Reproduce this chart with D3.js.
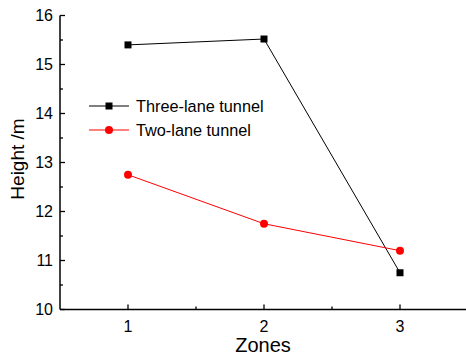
<!DOCTYPE html>
<html><head><meta charset="utf-8">
<script src="https://cdn.jsdelivr.net/npm/d3@7"></script>
<style>body{margin:0;background:#fff}svg{display:block}text{font-family:"Liberation Sans",Arial,sans-serif}</style>
</head><body>
<script>
const zones = [1, 2, 3];
const threeLane = [15.4, 15.52, 10.75];
const twoLane = [12.75, 11.75, 11.2];
const yTicks = [10, 11, 12, 13, 14, 15, 16];
const xTicks = [1, 2, 3];
const seriesNames = ["Three-lane tunnel", "Two-lane tunnel"];

const W = 466, H = 355;
const svg = d3.select("body").append("svg").attr("width", W).attr("height", H);
const x = d3.scaleLinear().domain([0.5, 3.5]).range([60, 468]);
const y = d3.scaleLinear().domain([10, 16]).range([309.5, 15.5]);

// axes
const gx = svg.append("g").attr("transform", "translate(0,309.5)");
gx.append("line").attr("x1", 60).attr("x2", 468).attr("stroke", "#000").attr("stroke-width", 1.5);
xTicks.forEach(t => gx.append("line").attr("x1", x(t)).attr("x2", x(t)).attr("y1", 0).attr("y2", -5).attr("stroke", "#000").attr("stroke-width", 1.3));
[1.5, 2.5].forEach(t => gx.append("line").attr("x1", x(t)).attr("x2", x(t)).attr("y1", 0).attr("y2", -3).attr("stroke", "#000").attr("stroke-width", 1.3));
xTicks.forEach(t => gx.append("text").attr("x", x(t)).attr("y", 22).attr("text-anchor", "middle").attr("font-size", 16).text(t));

const gy = svg.append("g").attr("transform", "translate(60,0)");
gy.append("line").attr("y1", y(10)).attr("y2", y(16)).attr("stroke", "#000").attr("stroke-width", 1.5);
yTicks.forEach(t => gy.append("line").attr("x1", 0).attr("x2", 5).attr("y1", y(t)).attr("y2", y(t)).attr("stroke", "#000").attr("stroke-width", 1.3));
d3.range(10.5, 16, 1).forEach(t => gy.append("line").attr("x1", 0).attr("x2", 3).attr("y1", y(t)).attr("y2", y(t)).attr("stroke", "#000").attr("stroke-width", 1.3));
yTicks.forEach(t => gy.append("text").attr("x", -7).attr("y", y(t)).attr("dy", "0.35em").attr("text-anchor", "end").attr("font-size", 16).text(t));

svg.append("text").attr("transform", "translate(24,159) rotate(-90)").attr("text-anchor", "middle").attr("font-size", 19).text("Height /m");
svg.append("text").attr("x", 263).attr("y", 352).attr("text-anchor", "middle").attr("font-size", 20).text("Zones");

const line = d3.line().x((d, i) => x(zones[i])).y(d => y(d));
svg.append("path").attr("d", line(threeLane)).attr("fill", "none").attr("stroke", "#000").attr("stroke-width", 1);
svg.append("path").attr("d", line(twoLane)).attr("fill", "none").attr("stroke", "#ff0000").attr("stroke-width", 1);
svg.selectAll(".sq").data(threeLane).enter().append("rect")
  .attr("x", (d, i) => x(zones[i]) - 3.5).attr("y", d => y(d) - 3.5).attr("width", 7).attr("height", 7).attr("fill", "#000");
svg.selectAll(".ci").data(twoLane).enter().append("circle")
  .attr("cx", (d, i) => x(zones[i])).attr("cy", d => y(d)).attr("r", 4).attr("fill", "#ff0000");

// legend
const lg = svg.append("g");
[0, 1].forEach(i => {
  const yy = 106 + i * 24;
  const col = i === 0 ? "#000" : "#ff0000";
  lg.append("line").attr("x1", 89).attr("x2", 129).attr("y1", yy).attr("y2", yy).attr("stroke", col).attr("stroke-width", 1);
  if (i === 0) lg.append("rect").attr("x", 105.5).attr("y", yy - 3.5).attr("width", 7).attr("height", 7).attr("fill", col);
  else lg.append("circle").attr("cx", 109).attr("cy", yy).attr("r", 4).attr("fill", col);
  lg.append("text").attr("x", 136).attr("y", yy).attr("dy", "0.35em").attr("font-size", 16.3).text(seriesNames[i]);
});
</script>
</body></html>
